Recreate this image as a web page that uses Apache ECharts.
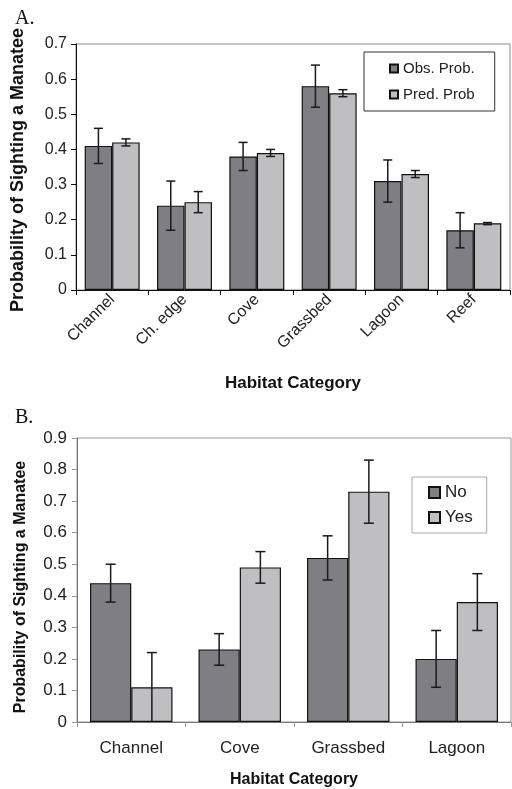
<!DOCTYPE html>
<html><head><meta charset="utf-8">
<script src="https://cdn.jsdelivr.net/npm/echarts@6/dist/echarts.min.js"></script>
<style>html,body{margin:0;padding:0;background:#fff}#c{width:512px;height:789px}</style>
</head><body><div id="c"></div>
<script>
// Panel A
const catsA = ['Channel', 'Ch. edge', 'Cove', 'Grassbed', 'Lagoon', 'Reef'];
const obsA = [0.41, 0.24, 0.38, 0.58, 0.31, 0.17];
const obsLowA = [0.36, 0.17, 0.34, 0.52, 0.25, 0.12];
const obsHighA = [0.46, 0.31, 0.42, 0.64, 0.37, 0.22];
const predA = [0.42, 0.25, 0.39, 0.56, 0.33, 0.19];
const predLowA = [0.41, 0.22, 0.38, 0.55, 0.32, 0.186];
const predHighA = [0.43, 0.28, 0.40, 0.57, 0.34, 0.192];
const ticksA = [0, 0.1, 0.2, 0.3, 0.4, 0.5, 0.6, 0.7];
// Panel B
const catsB = ['Channel', 'Cove', 'Grassbed', 'Lagoon'];
const noB = [0.44, 0.23, 0.52, 0.20];
const noLowB = [0.38, 0.18, 0.45, 0.11];
const noHighB = [0.50, 0.28, 0.59, 0.29];
const yesB = [0.11, 0.49, 0.73, 0.38];
const yesLowB = [0.0, 0.44, 0.63, 0.29];
const yesHighB = [0.22, 0.54, 0.83, 0.47];
const ticksB = [0, 0.1, 0.2, 0.3, 0.4, 0.5, 0.6, 0.7, 0.8, 0.9];

const DARK = '#7e7e84', LIGHT = '#bfbfc1';
const SANS = '"Liberation Sans", Arial, sans-serif';
const GAP = 0.24;

function errData(low, high) { return low.map((l, i) => [i, l, high[i]]); }
function errSeries(name, low, high, idx, side, cap) {
  return {
    type: 'custom', name: name + ' err', xAxisIndex: idx, yAxisIndex: idx, z: 5,
    data: errData(low, high), silent: true,
    renderItem: function (params, api) {
      const c = api.value(0);
      const lo = api.coord([c, api.value(1)]);
      const hi = api.coord([c, api.value(2)]);
      const band = api.size([1, 0])[0];
      const x = lo[0] + side * band * (1 - GAP) / 4;
      const st = { stroke: '#1a1a1a', lineWidth: 1.5 };
      const ch = [
        { type: 'line', shape: { x1: x, y1: lo[1], x2: x, y2: hi[1] }, style: st },
        { type: 'line', shape: { x1: x - cap, y1: hi[1], x2: x + cap, y2: hi[1] }, style: st }
      ];
      if (api.value(1) > 0) ch.push({ type: 'line', shape: { x1: x - cap, y1: lo[1], x2: x + cap, y2: lo[1] }, style: st });
      return { type: 'group', children: ch };
    }
  };
}
function bar(name, data, idx, color) {
  return {
    type: 'bar', name: name, data: data, xAxisIndex: idx, yAxisIndex: idx,
    barGap: '0%', barCategoryGap: (GAP * 100) + '%',
    itemStyle: { color: color, borderColor: '#111', borderWidth: 1.2 }
  };
}

const chart = echarts.init(document.getElementById('c'), null, { renderer: 'canvas' });
chart.setOption({
  backgroundColor: '#fff',
  animation: false,
  title: [
    { text: 'A.', left: 10, top: 4, textStyle: { fontFamily: '"Liberation Serif", "Times New Roman", serif', fontWeight: 'normal', fontSize: 20, color: '#111' } },
    { text: 'B.', left: 10, top: 403, textStyle: { fontFamily: '"Liberation Serif", "Times New Roman", serif', fontWeight: 'normal', fontSize: 20, color: '#111' } }
  ],
  grid: [
    { left: 76, right: 2, top: 44, height: 246, show: true, borderColor: '#888', borderWidth: 1, containLabel: false },
    { left: 77, right: 1, top: 438, height: 285, show: true, borderColor: '#999', borderWidth: 1, containLabel: false }
  ],
  legend: [
    { data: ['Obs. Prob.', 'Pred. Prob'], orient: 'vertical', left: 364, top: 52, icon: 'rect', itemWidth: 8, itemHeight: 8, itemGap: 11,
      padding: [9, 20, 9, 25], borderColor: '#333', borderWidth: 1, backgroundColor: '#fff',
      textStyle: { fontFamily: SANS, fontSize: 15, color: '#222' } },
    { data: ['No', 'Yes'], orient: 'vertical', left: 412, top: 477, icon: 'rect', itemWidth: 11, itemHeight: 11, itemGap: 8,
      padding: [7, 14, 7, 16], borderColor: '#aaa', borderWidth: 1, backgroundColor: '#fff',
      textStyle: { fontFamily: SANS, fontSize: 17, color: '#222' } }
  ],
  xAxis: [
    { type: 'category', gridIndex: 0, data: catsA,
      axisLine: { lineStyle: { color: '#111', width: 1 } },
      axisTick: { show: true, length: 5, lineStyle: { color: '#111' } },
      axisLabel: { rotate: 45, fontFamily: SANS, fontSize: 16, color: '#222', margin: 7 },
      name: 'Habitat Category', nameLocation: 'middle', nameGap: 85,
      nameTextStyle: { fontFamily: SANS, fontWeight: 'bold', fontSize: 17, color: '#111' } },
    { type: 'category', gridIndex: 1, data: catsB,
      axisLine: { lineStyle: { color: '#777', width: 1 } },
      axisTick: { show: true, length: 5, lineStyle: { color: '#999' } },
      axisLabel: { fontFamily: SANS, fontSize: 17, color: '#222', margin: 18 },
      name: 'Habitat Category', nameLocation: 'middle', nameGap: 50,
      nameTextStyle: { fontFamily: SANS, fontWeight: 'bold', fontSize: 16, color: '#111' } }
  ],
  yAxis: [
    { type: 'value', gridIndex: 0, min: ticksA[0], max: ticksA[ticksA.length - 1], interval: 0.1,
      splitLine: { show: false },
      axisLine: { show: true, lineStyle: { color: '#111', width: 1 } },
      axisTick: { show: true, length: 5, lineStyle: { color: '#111' } },
      axisLabel: { fontFamily: SANS, fontSize: 16, color: '#222', margin: 9,
        formatter: v => String(ticksA[Math.round(v * 10)]) },
      name: 'Probability of Sighting a Manatee', nameLocation: 'middle', nameGap: 49,
      nameTextStyle: { fontFamily: SANS, fontWeight: 'bold', fontSize: 18, color: '#111', padding: [0, 6, 0, 0] } },
    { type: 'value', gridIndex: 1, min: ticksB[0], max: ticksB[ticksB.length - 1], interval: 0.1,
      splitLine: { show: false },
      axisLine: { show: true, lineStyle: { color: '#777', width: 1 } },
      axisTick: { show: true, length: 5, lineStyle: { color: '#999' } },
      axisLabel: { fontFamily: SANS, fontSize: 17, color: '#222', margin: 10,
        formatter: v => String(ticksB[Math.round(v * 10)]) },
      name: 'Probability of Sighting a Manatee', nameLocation: 'middle', nameGap: 48,
      nameTextStyle: { fontFamily: SANS, fontWeight: 'bold', fontSize: 16, color: '#111', padding: [0, 14, 0, 0] } }
  ],
  series: [
    bar('Obs. Prob.', obsA, 0, DARK),
    bar('Pred. Prob', predA, 0, LIGHT),
    errSeries('Obs. Prob.', obsLowA, obsHighA, 0, -1, 4.5),
    errSeries('Pred. Prob', predLowA, predHighA, 0, 1, 4.5),
    bar('No', noB, 1, DARK),
    bar('Yes', yesB, 1, LIGHT),
    errSeries('No', noLowB, noHighB, 1, -1, 5),
    errSeries('Yes', yesLowB, yesHighB, 1, 1, 5)
  ]
});
</script></body></html>
